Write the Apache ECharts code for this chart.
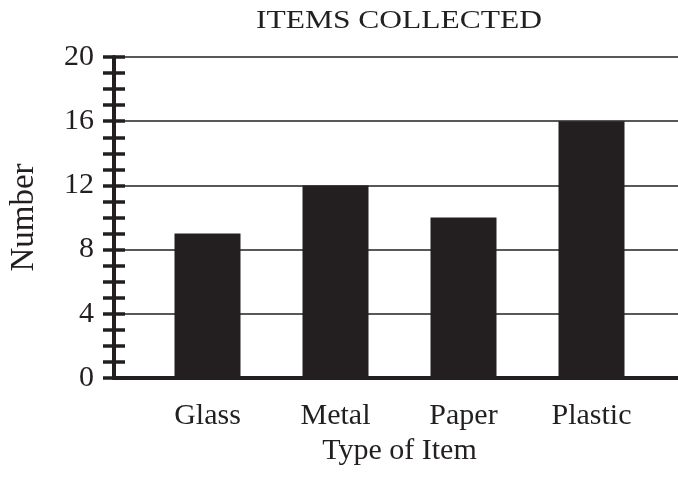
<!DOCTYPE html>
<html>
<head>
<meta charset="utf-8">
<script src="https://cdn.jsdelivr.net/npm/echarts@6/dist/echarts.min.js"></script>
<style>html,body{margin:0;padding:0;background:#fff;}#c{width:678px;height:479px;}</style>
</head>
<body>
<div id="c"></div>
<script>
var categories = ['Glass', 'Metal', 'Paper', 'Plastic'];
var values = [9, 12, 10, 16];
var yTicks = [0, 4, 8, 12, 16, 20];
var titleText = 'ITEMS COLLECTED';
var xName = 'Type of Item';
var yName = 'Number';

var ink = '#231f20';
var serif = '"Liberation Serif", "Times New Roman", serif';
var chart = echarts.init(document.getElementById('c'));
var yMin = yTicks[0], yMax = yTicks[yTicks.length - 1], yStep = yTicks[1] - yTicks[0];

chart.setOption({
  animation: false,
  backgroundColor: '#fff',
  graphic: [{
    type: 'text', x: 399, y: 21, scaleX: 1.26,
    style: { text: titleText, font: '25px ' + serif, fill: ink, textAlign: 'center', textVerticalAlign: 'middle' }
  }],
  grid: [
    { left: 112, right: 0, top: 57, bottom: 101 },
    { left: 143.5, width: 512, top: 57, bottom: 101 }
  ],
  xAxis: [
    { type: 'value', gridIndex: 0, position: 'bottom', min: 0, max: 1,
      axisLine: { show: true, lineStyle: { color: ink, width: 4 } },
      axisTick: { show: false }, axisLabel: { show: false }, splitLine: { show: false } },
    { type: 'value', gridIndex: 0, position: 'top', min: 0, max: 1,
      axisLine: { show: true, lineStyle: { color: ink, width: 4 } },
      axisTick: { show: false }, axisLabel: { show: false }, splitLine: { show: false } },
    { type: 'category', gridIndex: 1, data: categories,
      axisLine: { show: false }, axisTick: { show: false },
      axisLabel: { fontFamily: serif, fontSize: 30, color: ink, margin: 23 },
      name: xName, nameLocation: 'middle', nameGap: 50,
      nameTextStyle: { fontFamily: serif, fontSize: 30, color: ink } }
  ],
  yAxis: [
    { type: 'value', gridIndex: 0, position: 'left', min: yMin, max: yMax, interval: yStep,
      axisLine: { show: true, lineStyle: { color: ink, width: 4 } },
      axisTick: { show: true, length: 11, lineStyle: { color: ink, width: 3.5 } },
      minorTick: { show: true, splitNumber: 4, length: 11, lineStyle: { color: ink, width: 3.5 } },
      splitLine: { show: true, lineStyle: { color: ink, width: 1.5 } },
      axisLabel: { fontFamily: serif, fontSize: 30, color: ink, margin: 20 },
      name: yName, nameLocation: 'middle', nameGap: 73, nameRotate: 90,
      nameTextStyle: { fontFamily: serif, fontSize: 33, color: ink } },
    { type: 'value', gridIndex: 0, position: 'left', min: yMin, max: yMax, interval: yStep,
      axisLine: { show: false },
      axisTick: { show: true, inside: true, length: 11, lineStyle: { color: ink, width: 3.5 } },
      minorTick: { show: true, splitNumber: 4, length: 11, lineStyle: { color: ink, width: 3.5 } },
      splitLine: { show: false }, axisLabel: { show: false } },
    { type: 'value', gridIndex: 1, min: yMin, max: yMax, interval: yStep, show: false }
  ],
  series: [{
    type: 'bar', xAxisIndex: 2, yAxisIndex: 2, data: values, barWidth: 66,
    itemStyle: { color: ink }
  }]
});
</script>
</body>
</html>
